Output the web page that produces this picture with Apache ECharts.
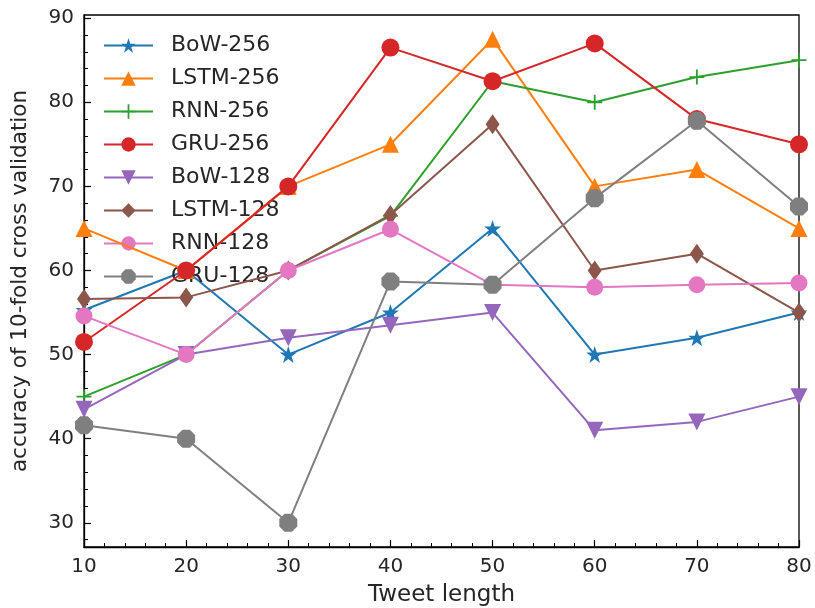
<!DOCTYPE html>
<html>
<head>
<meta charset="utf-8">
<script src="https://cdn.jsdelivr.net/npm/echarts@6/dist/echarts.min.js"></script>
<style>
  html, body { margin: 0; padding: 0; background: #fff; }
  #main { width: 815px; height: 608px; }
</style>
</head>
<body>
<div id="main"></div>
<script>
// 数据
var tweetLength = [10, 20, 30, 40, 50, 60, 70, 80];
var names = ["BoW-256", "LSTM-256", "RNN-256", "GRU-256", "BoW-128", "LSTM-128", "RNN-128", "GRU-128"];
var bow256  = [55.3, 60, 50, 55, 65, 50, 52, 55];
var lstm256 = [65, 60, 70, 75, 87.5, 70, 72, 65];
var rnn256  = [45, 50, 60, 66.5, 82.5, 80, 83, 85];
var gru256  = [51.5, 60, 70, 86.5, 82.5, 87, 78, 75];
var bow128  = [43.5, 50, 52, 53.5, 55, 41, 42, 45];
var lstm128 = [56.6, 56.8, 60, 66.6, 77.4, 60, 62, 55];
var rnn128  = [54.6, 50, 60, 64.9, 58.3, 58, 58.3, 58.5];
var gru128  = [41.6, 40, 30, 58.7, 58.3, 68.6, 77.8, 67.6];
var yTicks = [30, 40, 50, 60, 70, 80, 90];
var yMinorTicks = [28, 32, 34, 36, 38, 42, 44, 46, 48, 52, 54, 56, 58, 62, 64, 66, 68, 72, 74, 76, 78, 82, 84, 86, 88];

var colors = ["#1f77b4", "#ff7f0e", "#2ca02c", "#d62728", "#9467bd", "#8c564b", "#e377c2", "#7f7f7f"];
var allData = [bow256, lstm256, rnn256, gru256, bow128, lstm128, rnn128, gru128];

// 标记形状
var starPath = "path://M50,0 L61.8,35.5 L99,35.5 L69,57.5 L80.4,93 L50,71 L19.6,93 L31,57.5 L1,35.5 L38.2,35.5 Z";
var plusPath = "path://M44,0 H56 V44 H100 V56 H56 V100 H44 V56 H0 V44 H44 Z";
var octPath = "path://M29.3,0 H70.7 L100,29.3 V70.7 L70.7,100 H29.3 L0,70.7 V29.3 Z";
var symbols = [starPath, "triangle", plusPath, "circle", "triangle", "diamond", "circle", octPath];
var sizes = [17, 17, 15, 18, 17, [14, 20], 17, 18];
var rotates = [0, 0, 0, 0, 180, 0, 0, 0];

var font = "DejaVu Sans";
var txt = "#262626";

var series = [];
for (var i = 0; i < names.length; i++) {
    var pts = [];
    for (var j = 0; j < tweetLength.length; j++) {
        pts.push([tweetLength[j], allData[i][j]]);
    }
    series.push({
        name: names[i],
        type: "line",
        data: pts,
        symbol: symbols[i],
        symbolSize: sizes[i],
        symbolRotate: rotates[i],
        showAllSymbol: true,
        color: colors[i],
        lineStyle: { width: 2, color: colors[i] },
        itemStyle: { color: colors[i], borderWidth: 0 },
        emphasis: { disabled: true },
        animation: false,
        z: 3 + i
    });
}

var myChart = echarts.init(document.getElementById("main"));
var option = {
    backgroundColor: "#fff",
    animation: false,
    grid: {
        left: 84, right: 16, top: 15, bottom: 61,
        outerBoundsMode: "none",
        containLabel: false,
        show: true, borderColor: "#000", borderWidth: 1.3, backgroundColor: "transparent"
    },
    legend: {
        orient: "vertical",
        left: 98, top: 29.5,
        itemWidth: 49, itemHeight: 18,
        itemGap: 11,
        textStyle: { fontFamily: font, fontSize: 22, color: txt, padding: [0, 0, 0, 13], lineHeight: 22 },
        data: names
    },
    xAxis: {
        type: "value",
        min: 10, max: 80, interval: 10,
        name: "Tweet length",
        nameLocation: "middle",
        nameGap: 37,
        nameTextStyle: { fontFamily: font, fontSize: 23, color: txt },
        axisLine: { lineStyle: { color: "#000", width: 1.3 } },
        axisTick: { inside: true, length: 7, lineStyle: { color: "#000", width: 1.2 } },
        minorTick: { show: true, splitNumber: 5, length: 4, lineStyle: { color: "#000", width: 1 } },
        axisLabel: { fontFamily: font, fontSize: 20, color: txt, margin: 10 },
        splitLine: { show: false }
    },
    yAxis: [{
        type: "value",
        min: 27.125, max: 90.375,
        name: "accuracy of 10-fold cross validation",
        nameLocation: "middle",
        nameGap: 53,
        nameTextStyle: { fontFamily: font, fontSize: 21.5, color: txt },
        axisLine: { lineStyle: { color: "#000", width: 1.3 } },
        axisTick: { inside: true, length: 7, customValues: yTicks, lineStyle: { color: "#000", width: 1.2 } },
        axisLabel: { fontFamily: font, fontSize: 20, color: txt, margin: 10, customValues: yTicks },
        splitLine: { show: false }
    }, {
        type: "value",
        position: "left",
        min: 27.125, max: 90.375,
        axisLine: { show: false },
        axisTick: { inside: true, length: 4, customValues: yMinorTicks, lineStyle: { color: "#000", width: 1 } },
        axisLabel: { show: false, customValues: yMinorTicks },
        splitLine: { show: false }
    }],
    series: series
};
myChart.setOption(option);
</script>
</body>
</html>
